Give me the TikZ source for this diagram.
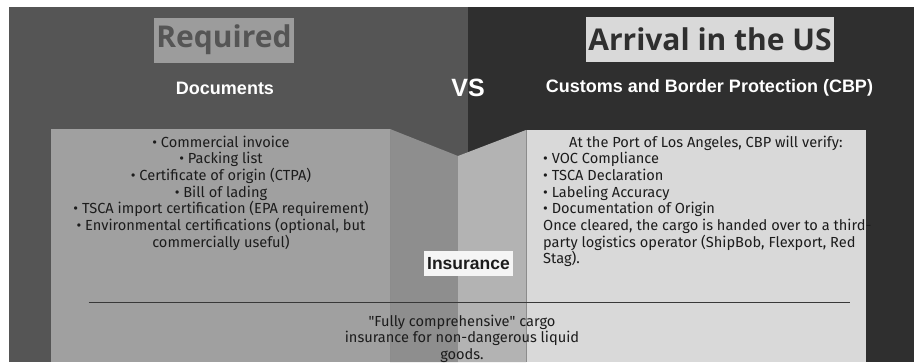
\documentclass[tikz,border=0pt]{standalone}
\usepackage{fontspec}
\setmainfont{Fira Sans}
\newfontfamily\headfont{Open Sans}
\newfontfamily\labelfont{Liberation Sans}
\definecolor{panelL}{HTML}{555555}
\definecolor{panelR}{HTML}{2F2F2F}
\definecolor{boxL}{HTML}{A0A0A0}
\definecolor{boxR}{HTML}{D9D9D9}
\definecolor{foldL}{HTML}{8E8E8E}
\definecolor{foldR}{HTML}{B3B3B3}
\definecolor{ink}{HTML}{1C1C1C}
\tikzset{
  headbox/.style={inner sep=0pt, font=\headfont\bfseries\fontsize{30}{36}\selectfont,
                  minimum height=45pt},
  subhead/.style={inner sep=0pt, text=white, font=\labelfont\bfseries\fontsize{18}{22}\selectfont},
  bodytext/.style={inner sep=0pt, text=ink, font=\fontsize{14.6}{16.7}\selectfont},
  edge/.style={draw=black!45, line width=0.8pt},
}
\begin{document}
\begin{tikzpicture}[x=1pt,y=-1pt]
\useasboundingbox (0,0) rectangle (914,362);
\fill[white] (0,0) rectangle (914,362);
% two background halves
\fill[panelL] (9,7) rectangle (468,362);
\fill[panelR] (468,7) rectangle (914,362);
% folded middle strip
\fill[foldL] (390,129) -- (458,156) -- (458,362) -- (390,362) -- cycle;
\fill[foldR] (458,156) -- (526,130) -- (526,362) -- (458,362) -- cycle;
% content cards
\fill[boxL] (51,129) rectangle (390,362);
\fill[boxR] (526,130) rectangle (866,362);
\draw[edge] (390,129) -- (390,362);
\draw[edge] (526,130) -- (526,362);

% headings
\node[headbox, fill=black!39, text=panelL, minimum width=140pt] (req) at (224,40) {Required};
\node[headbox, fill=boxR, text=panelR, minimum width=248pt] (arr) at (710,39.5) {Arrival in the US};
\node[subhead] (docs) at (225,88) {Documents};
\node[subhead] (cbp) at (709.5,88) {Customs and Border Protection (CBP)};
\node[inner sep=0pt, text=white, font=\labelfont\bfseries\fontsize{25}{28}\selectfont] (vs) at (468,88) {VS};

% document list
\node[bodytext, align=center, anchor=north] (doclist) at (221,135.5) {%
  • Commercial invoice\\
  • Packing list\\
  • Certificate of origin (CTPA)\\
  • Bill of lading\\
  • TSCA import certification (EPA requirement)\\
  • Environmental certifications (optional, but\\
  commercially useful)};

% customs checks
\node[bodytext, align=left, anchor=north west] (cbplist) at (543,135.5) {%
  \hspace*{26pt}At the Port of Los Angeles, CBP will verify:\\
  • VOC Compliance\\
  • TSCA Declaration\\
  • Labeling Accuracy\\
  • Documentation of Origin\\
  Once cleared, the cargo is handed over to a third-\\
  party logistics operator (ShipBob, Flexport, Red\\
  Stag).};

% insurance
\node[inner sep=0pt, fill=white!96!black, minimum width=89pt, minimum height=25pt,
      text=ink, font=\labelfont\bfseries\fontsize{17.5}{20}\selectfont] (ins) at (468.5,263.5) {Insurance};
\coordinate (ruleL) at (88.6,302.7);
\coordinate (ruleR) at (849.6,302.7);
\draw[black!78, line width=1pt] (ruleL) -- (ruleR);
\node[bodytext, align=center, anchor=north] (instext) at (462,314.5) {%
  \textquotedbl Fully comprehensive\textquotedbl\ cargo\\
  insurance for non-dangerous liquid\\
  goods.};
\end{tikzpicture}
\end{document}
